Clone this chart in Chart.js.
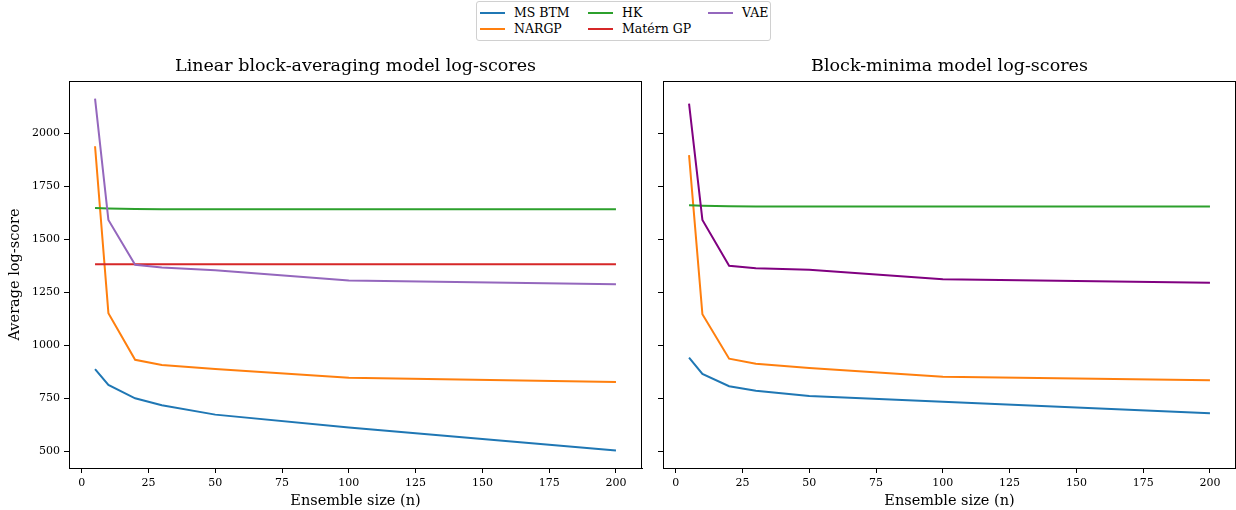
<!DOCTYPE html>
<html>
<head>
<meta charset="utf-8">
<script src="https://cdn.jsdelivr.net/npm/chart.js@4.4.1/dist/chart.umd.min.js"></script>
<style>
  body { margin: 0; width: 1236px; height: 510px; background: #fff; overflow: hidden; position: relative; font-family: "DejaVu Serif", serif; }
  canvas { position: absolute; top: 50px; }
  #legend { position: absolute; left: 476px; top: 1px; width: 293px; height: 38px; border: 1px solid #d0d0d0; border-radius: 3px; }
  .item { position: absolute; height: 16px; font-size: 12.5px; line-height: 16px; color: #000; white-space: nowrap; }
  .item span.h { position: absolute; left: 0; top: 7px; width: 25px; height: 2px; }
  .item span.t { position: absolute; left: 34px; top: 0; }
</style>
</head>
<body>
<div id="legend"></div>
<canvas id="left-graph" width="645" height="460" style="left:0px"></canvas>
<canvas id="right-graph" width="591" height="460" style="left:645px"></canvas>
<script>
const ensembleSizes = [5, 10, 20, 30, 50, 100, 200];

// linear block-averaging model
const msbtmLin  = [888, 813, 750, 717, 673, 612, 504];
const nargpLin  = [1940, 1152, 932, 907, 888, 847, 827];
const hkLin     = [1648, 1646, 1644, 1643, 1643, 1642, 1642];
const maternLin = [1383, 1383, 1383, 1383, 1383, 1383, 1383];
const vaeLin    = [2165, 1592, 1380, 1367, 1354, 1306, 1289];

// block-minima model
const msbtmMin = [942, 865, 807, 786, 761, 734, 679];
const nargpMin = [1898, 1147, 937, 913, 893, 852, 835];
const hkMin    = [1661, 1659, 1657, 1656, 1656, 1656, 1655];
const vaeMin   = [2141, 1592, 1376, 1364, 1357, 1312, 1295];

const xTicks = [0, 25, 50, 75, 100, 125, 150, 175, 200];
const yTicks = [500, 750, 1000, 1250, 1500, 1750, 2000];

const legendNames = ['MS BTM', 'NARGP', 'HK', 'Matérn GP', 'VAE'];
const legendColors = ['#1f77b4', '#ff7f0e', '#2ca02c', '#d62728', '#9467bd'];

const FONT = 'DejaVu Serif';
Chart.defaults.font.family = FONT;
Chart.defaults.color = '#000';

// legend, 3 columns x 2 rows like matplotlib ncol=3
const colX = [3, 111, 231];
const legend = document.getElementById('legend');
legendNames.forEach((name, i) => {
    const d = document.createElement('div');
    d.className = 'item';
    d.style.left = colX[Math.floor(i / 2)] + 'px';
    d.style.top = (3 + (i % 2) * 16) + 'px';
    d.innerHTML = '<span class="h" style="background:' + legendColors[i] + '"></span><span class="t">' + name + '</span>';
    legend.appendChild(d);
});

function series(label, ys, color, idx) {
    return {
        label: label,
        data: ensembleSizes.map((x, i) => ({x: x, y: ys[i]})),
        borderColor: color,
        backgroundColor: color,
        borderWidth: 2,
        pointRadius: 0,
        tension: 0,
        order: 10 - idx,
    };
}

const frame = {
    id: 'frame',
    afterDatasetsDraw(chart) {
        const a = chart.chartArea;
        const c = chart.ctx;
        c.save();
        c.strokeStyle = '#000';
        c.lineWidth = 1;
        c.strokeRect(Math.round(a.left) + 0.5, Math.round(a.top) + 0.5,
            Math.round(a.right - a.left) - 1, Math.round(a.bottom - a.top));
        c.restore();
    }
};

function make_config(title, datasets, yAxisWidth, showYLabels, padRight) {
    return {
        type: 'line',
        data: {datasets: datasets},
        options: {
            responsive: false,
            animation: false,
            layout: {padding: {left: 0, right: padRight, top: 0, bottom: 0}},
            plugins: {
                legend: {display: false},
                tooltip: {enabled: false},
                title: {
                    display: true,
                    text: title,
                    fullSize: false,
                    font: {family: FONT, size: 17.5, weight: 'normal'},
                    color: '#000',
                    padding: {top: 6, bottom: 4},
                },
            },
            scales: {
                x: {
                    type: 'linear',
                    min: -4.75,
                    max: 209.75,
                    afterBuildTicks: (s) => { s.ticks = xTicks.map(v => ({value: v})); },
                    afterFit: (s) => { s.height = 42; },
                    ticks: {font: {size: 11}, padding: 4, maxRotation: 0, color: '#000',
                        callback: (v) => String(v)},
                    grid: {drawOnChartArea: false, drawTicks: true, tickLength: 5, color: '#000'},
                    border: {display: true, color: '#000'},
                    title: {display: true, text: 'Ensemble size (n)', font: {size: 14.5}, color: '#000',
                        padding: {top: 0, bottom: 0}},
                },
                y: {
                    type: 'linear',
                    min: 421,
                    max: 2248,
                    afterBuildTicks: (s) => { s.ticks = yTicks.map(v => ({value: v})); },
                    afterFit: (s) => { s.width = yAxisWidth; },
                    ticks: {font: {size: 11}, padding: 4,
                        color: showYLabels ? '#000' : 'rgba(0,0,0,0)',
                        callback: (v) => String(v)},
                    grid: {drawOnChartArea: false, drawTicks: true, tickLength: 5, color: '#000'},
                    border: {display: true, color: '#000'},
                    title: {display: showYLabels, text: 'Average log-score', font: {size: 14.5}, color: '#000',
                        padding: {top: 7, bottom: 0}},
                },
            },
        },
        plugins: [frame],
    };
}

const leftData = [
    series('MS BTM', msbtmLin, '#1f77b4', 0),
    series('NARGP', nargpLin, '#ff7f0e', 1),
    series('HK', hkLin, '#2ca02c', 2),
    series('Matérn GP', maternLin, '#d62728', 3),
    series('VAE', vaeLin, '#9467bd', 4),
];

const rightData = [
    series('MS BTM', msbtmMin, '#1f77b4', 0),
    series('NARGP', nargpMin, '#ff7f0e', 1),
    series('HK', hkMin, '#2ca02c', 2),
    series('VAE', vaeMin, '#800080', 3),
];

new Chart(document.getElementById('left-graph'),
    make_config('Linear block-averaging model log-scores', leftData, 69, true, 3));
new Chart(document.getElementById('right-graph'),
    make_config('Block-minima model log-scores', rightData, 18, false, 0));
</script>
</body>
</html>
